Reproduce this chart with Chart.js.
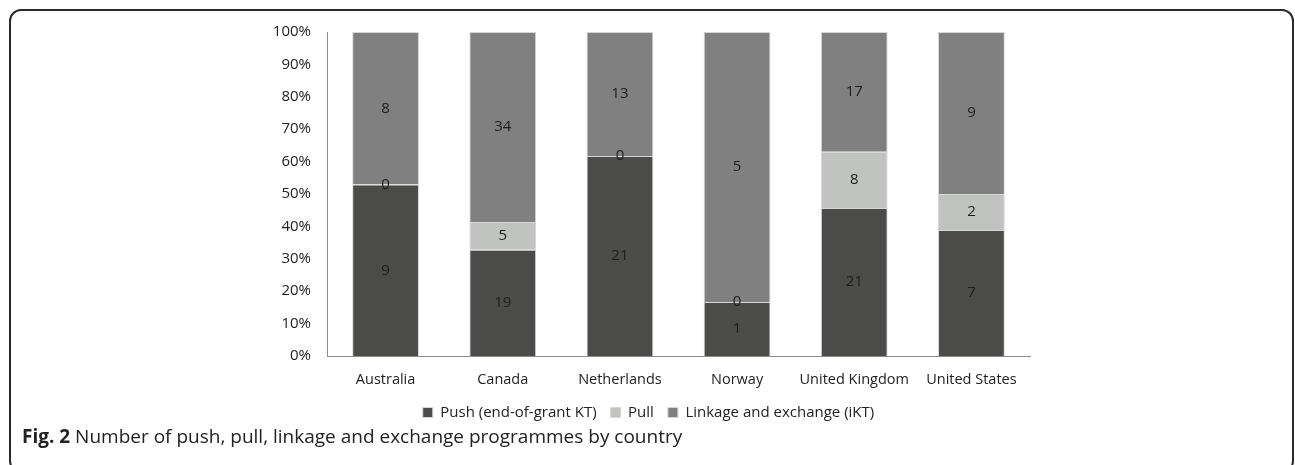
<!DOCTYPE html>
<html lang="en">

<head>
    <meta charset="UTF-8">
    <title>Fig. 2 Programmes by country</title>
    <script src="https://cdn.jsdelivr.net/npm/chart.js"></script>
    <style>
        body {
            margin: 0;
            background-color: #ffffff;
            font-family: "Open Sans", sans-serif;
        }

        .frame {
            position: absolute;
            left: 9px;
            top: 9px;
            width: 1281px;
            height: 460px;
            border: 2px solid #2a2a2a;
            border-radius: 12px;
        }

        .chart-box {
            position: absolute;
            left: 0;
            top: 0;
            width: 1295px;
            height: 430px;
        }

        .caption {
            position: absolute;
            left: 22px;
            top: 423px;
            font-size: 19px;
            color: #222;
        }
    </style>
</head>

<body>
    <div class="frame"></div>
    <div class="chart-box">
        <canvas id="kt-chart"></canvas>
    </div>
    <div class="caption"><b>Fig. 2</b> Number of push, pull, linkage and exchange programmes by country</div>

    <script>
        const countries = ["Australia", "Canada", "Netherlands", "Norway", "United Kingdom", "United States"];
        const pushCounts = [9, 19, 21, 1, 21, 7];
        const pullCounts = [0, 5, 0, 0, 8, 2];
        const linkageCounts = [8, 34, 13, 5, 17, 9];

        const seriesNames = ["Push (end-of-grant KT)", "Pull", "Linkage and exchange (iKT)"];
        const seriesColors = ["#4b4b49", "#c1c3c1", "#808080"];

        // share of each country's total, so the stacks all reach 100%
        const totals = countries.map((_, i) => pushCounts[i] + pullCounts[i] + linkageCounts[i]);
        const asPercent = counts => counts.map((v, i) => v / totals[i] * 100);

        // writes the raw count in the middle of every segment
        const countLabels = {
            id: 'countLabels',
            afterDatasetsDraw(chart) {
                const ctx = chart.ctx;
                ctx.save();
                ctx.font = '15px "Open Sans", sans-serif';
                ctx.fillStyle = '#1e1e1e';
                ctx.textAlign = 'center';
                ctx.textBaseline = 'middle';
                chart.data.datasets.forEach((ds, di) => {
                    chart.getDatasetMeta(di).data.forEach((bar, i) => {
                        const mid = (bar.y + bar.base) / 2;
                        ctx.fillText(String(ds.counts[i]), bar.x, mid);
                    });
                });
                ctx.restore();
            }
        };

        const datasets = [pushCounts, pullCounts, linkageCounts].map((counts, k) => ({
            label: seriesNames[k],
            data: asPercent(counts),
            counts: counts,
            backgroundColor: seriesColors[k],
            borderColor: '#d6d6d6',
            borderWidth: 1,
            categoryPercentage: 1,
            barPercentage: 0.57
        }));

        new Chart(document.getElementById('kt-chart'), {
            type: 'bar',
            data: { labels: countries, datasets: datasets },
            plugins: [countLabels],
            options: {
                responsive: true,
                maintainAspectRatio: false,
                animation: false,
                layout: { padding: { left: 267, right: 265, top: 32, bottom: 0 } },
                scales: {
                    x: {
                        stacked: true,
                        // keep the legend tucked close under the country names
                        afterFit: scale => { scale.height = 35; },
                        grid: { display: false, drawTicks: false },
                        border: { color: '#8c8c8c', width: 1 },
                        ticks: {
                            color: '#222',
                            font: { family: 'Open Sans', size: 14.5 },
                            padding: 15,
                            autoSkip: false,
                            minRotation: 0,
                            maxRotation: 0
                        }
                    },
                    y: {
                        stacked: true,
                        min: 0,
                        max: 100,
                        afterFit: scale => { scale.width = 60; },
                        grid: { display: false, drawTicks: false },
                        border: { color: '#8c8c8c', width: 1 },
                        ticks: {
                            stepSize: 10,
                            color: '#222',
                            font: { family: 'Open Sans', size: 15 },
                            padding: 16,
                            callback: v => v + '%'
                        }
                    }
                },
                plugins: {
                    tooltip: { enabled: false },
                    legend: {
                        position: 'bottom',
                        labels: {
                            color: '#222',
                            font: { family: 'Open Sans', size: 15 },
                            boxWidth: 10,
                            boxHeight: 10,
                            padding: 14
                        }
                    }
                }
            }
        });
    </script>
</body>

</html>
